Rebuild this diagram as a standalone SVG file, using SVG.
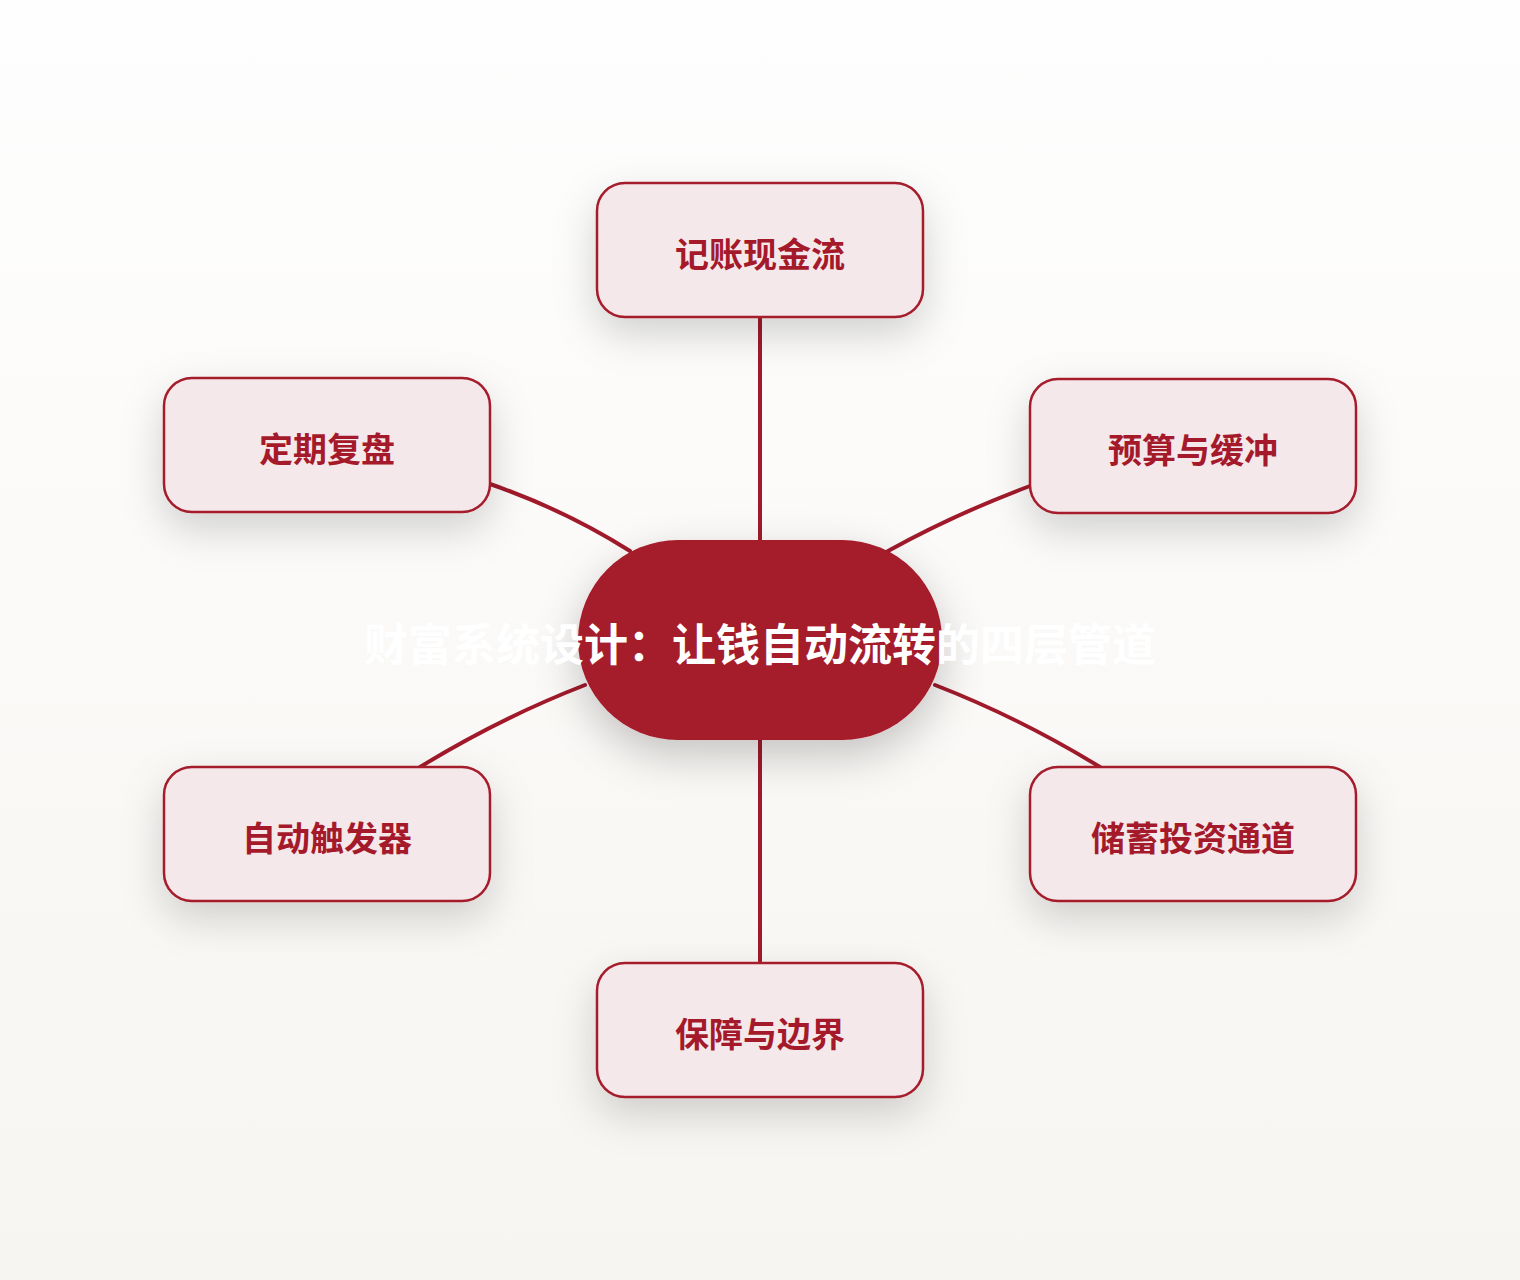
<svg xmlns="http://www.w3.org/2000/svg" width="1520" height="1280" viewBox="0 0 1520 1280">
<defs>
<linearGradient id="bg" x1="0" y1="0" x2="0" y2="1">
<stop offset="0" stop-color="#fefefe"/>
<stop offset="1" stop-color="#f7f5f1"/>
</linearGradient>
<filter id="sh" x="-40%" y="-40%" width="180%" height="200%">
<feDropShadow dx="0" dy="16" stdDeviation="20" flood-color="#000" flood-opacity="0.17"/>
</filter>
<filter id="shc" x="-40%" y="-40%" width="180%" height="200%">
<feDropShadow dx="0" dy="16" stdDeviation="22" flood-color="#000" flood-opacity="0.22"/>
</filter>
</defs>
<style>
.box{fill:#f5e8eb;stroke:#a51a2b;stroke-width:2.5;filter:url(#sh)}
.lbl{font-family:"Noto Sans CJK SC","Noto Sans",sans-serif;font-weight:700;font-size:34px;fill:#a51a2b;text-anchor:middle;dominant-baseline:central}
.edge{fill:none;stroke:#a01a2b;stroke-width:4;stroke-linecap:round}
.title{font-family:"Noto Sans CJK SC","Noto Sans",sans-serif;font-weight:700;font-size:44px;fill:#ffffff;text-anchor:middle;dominant-baseline:central}
</style>
<rect width="1520" height="1280" fill="url(#bg)"/>
<g id="connectors">
<path class="edge" d="M760,317 L760,540"/>
<path class="edge" d="M490,484 Q565,510 630,551"/>
<path class="edge" d="M1030,486 Q955,514 888,551"/>
<path class="edge" d="M585,685 Q500,718 420,767"/>
<path class="edge" d="M935,685 Q1020,718 1100,767"/>
<path class="edge" d="M760,740 L760,963"/>
</g>
<g id="center">
<rect x="578" y="540" width="364" height="200" rx="100" fill="#a51a2b" filter="url(#shc)"/>
<text class="title" x="760" y="642">财富系统设计：让钱自动流转的四层管道</text>
</g>
<g id="n1">
<rect class="box" x="597" y="183" width="326" height="134" rx="28"/>
<text class="lbl" x="760" y="252">记账现金流</text>
</g>
<g id="n2">
<rect class="box" x="1030" y="379" width="326" height="134" rx="28"/>
<text class="lbl" x="1193" y="448">预算与缓冲</text>
</g>
<g id="n3">
<rect class="box" x="1030" y="767" width="326" height="134" rx="28"/>
<text class="lbl" x="1193" y="836">储蓄投资通道</text>
</g>
<g id="n4">
<rect class="box" x="597" y="963" width="326" height="134" rx="28"/>
<text class="lbl" x="760" y="1032">保障与边界</text>
</g>
<g id="n5">
<rect class="box" x="164" y="767" width="326" height="134" rx="28"/>
<text class="lbl" x="327" y="836">自动触发器</text>
</g>
<g id="n6">
<rect class="box" x="164" y="378" width="326" height="134" rx="28"/>
<text class="lbl" x="327" y="447">定期复盘</text>
</g>
</svg>
